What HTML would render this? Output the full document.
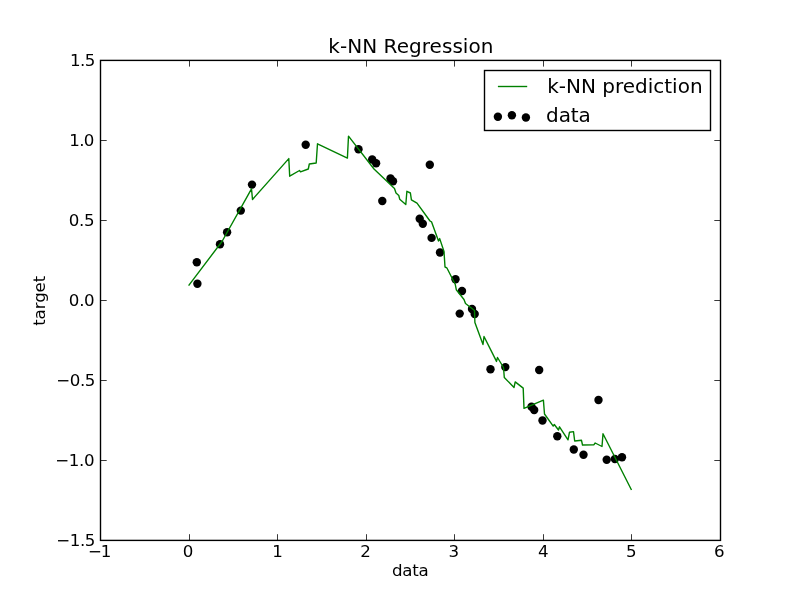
<!DOCTYPE html>
<html lang="en"><head><meta charset="utf-8"><title>k-NN Regression</title>
<style>html,body{margin:0;padding:0;background:#fff;width:800px;height:600px;overflow:hidden}</style>
</head><body>
<svg width="800" height="600" viewBox="0 0 800 600" style="display:block">
<rect width="800" height="600" fill="#fff"/>
<g fill="#000"><circle cx="196.8" cy="262.3" r="4.2"/><circle cx="197.4" cy="283.8" r="4.2"/><circle cx="220.0" cy="244.2" r="4.2"/><circle cx="227.1" cy="232.3" r="4.2"/><circle cx="240.8" cy="210.6" r="4.2"/><circle cx="252.0" cy="184.6" r="4.2"/><circle cx="305.7" cy="144.8" r="4.2"/><circle cx="358.5" cy="149.3" r="4.2"/><circle cx="372.2" cy="159.5" r="4.2"/><circle cx="376.1" cy="163.2" r="4.2"/><circle cx="382.3" cy="201.0" r="4.2"/><circle cx="390.5" cy="178.5" r="4.2"/><circle cx="393.0" cy="181.2" r="4.2"/><circle cx="429.8" cy="164.7" r="4.2"/><circle cx="419.7" cy="218.7" r="4.2"/><circle cx="422.8" cy="223.7" r="4.2"/><circle cx="431.6" cy="237.9" r="4.2"/><circle cx="440.0" cy="252.5" r="4.2"/><circle cx="455.5" cy="279.3" r="4.2"/><circle cx="462.0" cy="291.0" r="4.2"/><circle cx="459.7" cy="313.6" r="4.2"/><circle cx="472.0" cy="309.0" r="4.2"/><circle cx="474.7" cy="314.0" r="4.2"/><circle cx="490.5" cy="369.3" r="4.2"/><circle cx="505.3" cy="367.1" r="4.2"/><circle cx="539.2" cy="370.0" r="4.2"/><circle cx="531.5" cy="406.7" r="4.2"/><circle cx="534.2" cy="410.0" r="4.2"/><circle cx="542.5" cy="420.5" r="4.2"/><circle cx="557.3" cy="436.3" r="4.2"/><circle cx="573.8" cy="449.5" r="4.2"/><circle cx="583.5" cy="454.7" r="4.2"/><circle cx="598.5" cy="400.0" r="4.2"/><circle cx="606.7" cy="459.8" r="4.2"/><circle cx="614.9" cy="459.0" r="4.2"/><circle cx="622.0" cy="457.2" r="4.2"/></g>
<polyline fill="none" stroke="#008000" stroke-width="1.39" stroke-linejoin="round" points="188.6,285.6 222.0,241.5 251.5,188.8 252.5,199.5 288.8,158.6 289.7,176.2 299.5,170.5 300.5,171.8 308.3,169.0 309.3,164.0 316.2,163.0 317.5,143.8 347.4,158.1 348.5,136.1 374.0,169.0 394.5,188.5 396.0,193.0 398.8,195.5 399.7,199.2 405.8,204.5 406.9,191.3 410.4,193.0 411.4,199.8 417.0,203.2 430.0,221.0 431.5,221.8 438.5,241.0 439.7,238.6 444.0,251.5 445.0,267.0 446.8,267.8 455.2,284.2 456.3,289.7 464.0,299.5 465.5,303.5 474.5,310.5 474.9,322.5 483.0,344.5 484.0,336.5 496.5,361.4 497.5,357.5 503.5,367.5 504.3,377.5 514.0,387.5 515.2,381.9 523.2,388.1 524.0,408.4 543.4,400.1 544.5,414.0 553.2,426.1 554.3,424.5 558.5,430.0 559.5,426.8 568.0,439.8 569.5,432.2 573.5,431.6 574.7,441.0 581.5,440.3 582.5,445.0 594.0,444.7 595.2,443.0 602.0,446.5 603.0,433.8 631.5,490.0"/>
<rect x="100.5" y="60.4" width="620" height="480" fill="none" stroke="#000" stroke-width="1.39"/>
<path d="M189.5 540.4v-6.2M189.5 60.4v6.2M277.5 540.4v-6.2M277.5 60.4v6.2M366.5 540.4v-6.2M366.5 60.4v6.2M454.5 540.4v-6.2M454.5 60.4v6.2M543.5 540.4v-6.2M543.5 60.4v6.2M631.5 540.4v-6.2M631.5 60.4v6.2M100.5 140.5h6.2M720.5 140.5h-6.2M100.5 220.5h6.2M720.5 220.5h-6.2M100.5 300.5h6.2M720.5 300.5h-6.2M100.5 380.5h6.2M720.5 380.5h-6.2M100.5 460.5h6.2M720.5 460.5h-6.2" stroke="#000" stroke-width="0.78" fill="none"/>
<g font-family="'DejaVu Sans', 'Liberation Sans', sans-serif" font-size="16.67" fill="#000">
<text x="88.00" y="557" letter-spacing="-1.20">−1</text>
<text x="182.86" y="557" letter-spacing="0.00">0</text>
<text x="272.33" y="557" letter-spacing="0.00">1</text>
<text x="360.16" y="557" letter-spacing="0.00">2</text>
<text x="448.57" y="557" letter-spacing="0.00">3</text>
<text x="538.00" y="557" letter-spacing="0.00">4</text>
<text x="626.08" y="557" letter-spacing="0.00">5</text>
<text x="714.04" y="557" letter-spacing="0.00">6</text>
<text x="70.01" y="66.30" letter-spacing="-0.55">1.5</text>
<text x="69.21" y="146.30" letter-spacing="-0.61">1.0</text>
<text x="68.86" y="226.30" letter-spacing="-0.37">0.5</text>
<text x="68.86" y="306.30" letter-spacing="-0.32">0.0</text>
<text x="56.24" y="386.30" letter-spacing="-0.44">−0.5</text>
<text x="55.24" y="466.30" letter-spacing="-0.34">−1.0</text>
<text x="56.24" y="546.30" letter-spacing="-0.44">−1.5</text>
<text x="392.06" y="576" letter-spacing="-0.31">data</text>
<text transform="translate(44.80,325.80) rotate(-90)" letter-spacing="-0.12">target</text>
</g>
<g font-family="'DejaVu Sans', 'Liberation Sans', sans-serif" font-size="20" fill="#000">
<text x="328.27" y="52.6" letter-spacing="0.05">k-NN Regression</text>
<rect x="484.5" y="70.5" width="226" height="60" fill="#fff" stroke="#000" stroke-width="1.39"/>
<line x1="497.9" y1="86.5" x2="527.2" y2="86.5" stroke="#008000" stroke-width="1.39"/>
<circle cx="497.9" cy="116.7" r="4.2"/>
<circle cx="511.9" cy="115.2" r="4.2"/>
<circle cx="525.9" cy="117.5" r="4.2"/>
<text x="547.16" y="92.6" letter-spacing="-0.00">k-NN prediction</text>
<text x="546.00" y="122.1" letter-spacing="-0.06">data</text>
</g>
</svg>
</body></html>
